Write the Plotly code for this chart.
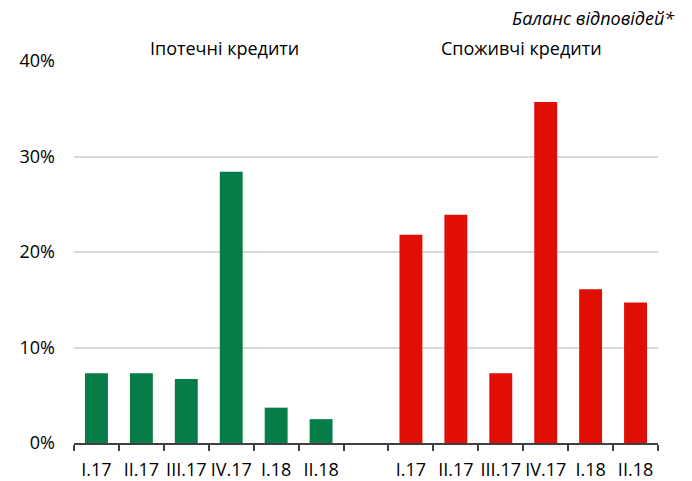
import plotly.graph_objects as go

# Quarterly balance of responses, %
quarters = ["I.17", "II.17", "III.17", "IV.17", "I.18", "II.18"]
mortgage = [7.3, 7.3, 6.7, 28.4, 3.7, 2.5]
consumer = [21.8, 23.9, 7.3, 35.7, 16.1, 14.7]

group_titles = ["Іпотечні кредити", "Споживчі кредити"]
note = "Баланс відповідей*"
y_ticks = [0, 10, 20, 30, 40]

GREEN = "#067D48"
RED = "#E00E05"
FONT = "Open Sans, Liberation Sans, sans-serif"

W, H = 692, 481
ML, MR, MT, MB = 74, 34, 61, 38

n = len(quarters)
x_mort = list(range(n))
x_cons = [i + n + 1 for i in range(n)]

fig = go.Figure()
fig.add_trace(go.Bar(x=x_mort, y=mortgage, marker=dict(color=GREEN, line_width=0),
                     width=0.51, showlegend=False))
fig.add_trace(go.Bar(x=x_cons, y=consumer, marker=dict(color=RED, line_width=0),
                     width=0.51, showlegend=False))

fig.update_layout(
    width=W, height=H,
    margin=dict(l=ML, r=MR, t=MT, b=MB),
    paper_bgcolor="white", plot_bgcolor="white",
    font=dict(family=FONT, size=18, color="#000000"),
    xaxis=dict(
        range=[-0.5, 2 * n + 0.5],
        tickmode="array",
        tickvals=x_mort + x_cons,
        ticktext=quarters + quarters,
        ticks="outside", ticklen=10, tickcolor="rgba(0,0,0,0)",
        showgrid=False, zeroline=False,
        showline=True, linecolor="#404040", linewidth=1.5,
        minor=dict(tick0=-0.5, dtick=1, ticks="outside", ticklen=6,
                   tickcolor="#404040", tickwidth=1.5, showgrid=False),
        tickfont=dict(size=18),
        automargin=False,
        fixedrange=True,
    ),
    yaxis=dict(
        range=[0, 40],
        tickmode="array",
        tickvals=y_ticks,
        ticktext=[f"{v}%" for v in y_ticks],
        showgrid=True, gridcolor="#D9D9D9", gridwidth=1.5,
        zeroline=False, showline=False, ticks="",
        ticklabelstandoff=18,
        tickfont=dict(size=18),
        automargin=False,
    ),
)

# group headers above each block of bars
for title, xc in zip(group_titles, [2.86, 9.46]):
    fig.add_annotation(x=xc, xref="x", y=1, yref="paper", yanchor="bottom",
                       yshift=-1, text=title, showarrow=False,
                       font=dict(family=FONT, size=18, color="#000000"))

# note in the top-right corner
fig.add_annotation(
    x=(677 - ML) / (W - ML - MR), xref="paper",
    y=1 + (MT - 18) / (H - MT - MB), yref="paper",
    xanchor="right", yanchor="middle",
    text=note, showarrow=False,
    font=dict(family=FONT, size=18, color="#000000", style="italic"),
)

fig.write_html("out.html")
